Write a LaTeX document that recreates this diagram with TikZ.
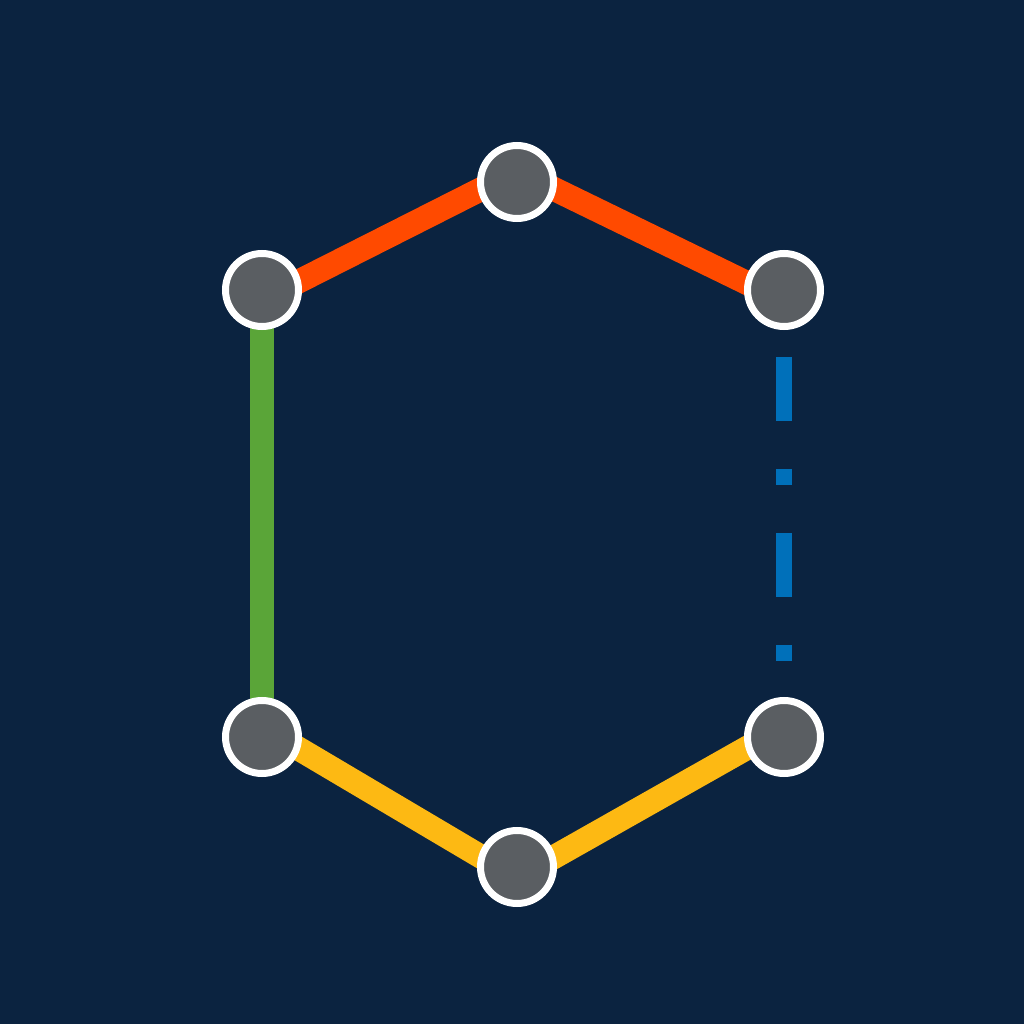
\documentclass[tikz,border=0pt]{standalone}
\usepackage{xcolor}
\usepackage{tikz}
\usetikzlibrary{positioning,backgrounds}
\definecolor{night}{HTML}{0B2340}
\definecolor{flame}{HTML}{FF4A00}
\definecolor{leaf}{HTML}{5AA538}
\definecolor{amber}{HTML}{FDB913}
\definecolor{ocean}{HTML}{0070BA}
\definecolor{stone}{HTML}{5A5E62}

\begin{document}
\begin{tikzpicture}[
   v/.style={circle,draw=white,fill=stone,line width=0.07cm,inner sep=0pt,minimum size=0.73cm},
   bond/.style={line width=0.24cm},
   dashbond/.style={line width=0.16cm,dash pattern=on 0.64cm off 0.48cm on 0.16cm off 0.48cm,dash phase=1.49cm}]
  \useasboundingbox (0,0) rectangle (10.24,10.24);
  % ring of atoms
  \node[v] (top) at (5.17,8.42) {}; \node[v] (ul) at (2.62,7.34) {};
  \node[v] (ur) at (7.84,7.34) {};  \node[v] (ll) at (2.62,2.87) {};
  \node[v] (lr) at (7.84,2.87) {};  \node[v] (bot) at (5.17,1.57) {};
  \begin{pgfonlayer}{background}
    \fill[night] (0,0) rectangle (10.24,10.24);
    % bonds, ends a little off the centres
    \foreach \a/\sa/\b/\sb/\c in {ul/-0.10/top/0.11/flame,top/0.11/ur/-0.11/flame,ll/0.10/bot/-0.11/amber,bot/-0.11/lr/0.10/amber}{
      \draw[bond,\c] ([yshift=\sa cm]\a.center) -- ([yshift=\sb cm]\b.center);}
    \draw[bond,leaf] (ul.center) -- (ll.center);
  \end{pgfonlayer}
  \draw[dashbond,ocean] (ur) -- (lr);
\end{tikzpicture}
\end{document}
